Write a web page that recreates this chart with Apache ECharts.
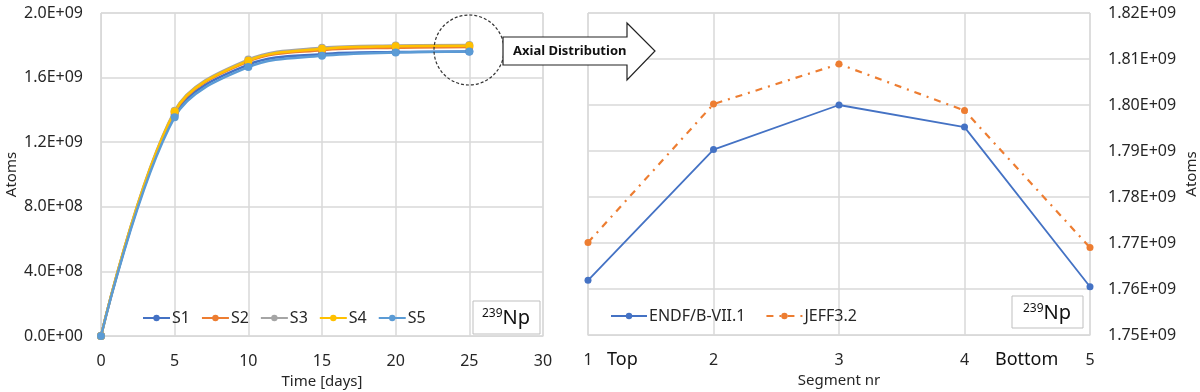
<!DOCTYPE html>
<html><head><meta charset="utf-8">
<script src="https://cdn.jsdelivr.net/npm/echarts@6/dist/echarts.min.js"></script>
<style>html,body{margin:0;padding:0;background:#fff}#c{width:1200px;height:392px}</style>
</head><body><div id="c"></div>
<script>
// ---- data ----
const times = [0, 5, 10, 15, 20, 25];
const s1 = [0, 1.370e9, 1.680e9, 1.745e9, 1.758e9, 1.762e9];
const s2 = [0, 1.385e9, 1.700e9, 1.770e9, 1.785e9, 1.790e9];
const s3 = [0, 1.395e9, 1.712e9, 1.785e9, 1.799e9, 1.802e9];
const s4 = [0, 1.390e9, 1.705e9, 1.778e9, 1.794e9, 1.797e9];
const s5 = [0, 1.355e9, 1.665e9, 1.735e9, 1.755e9, 1.761e9];
const seriesNames = ['S1', 'S2', 'S3', 'S4', 'S5'];
const segments = ['1', '2', '3', '4', '5'];
const endf = [1.7619e9, 1.7903e9, 1.8000e9, 1.7952e9, 1.7605e9];
const jeff = [1.7701e9, 1.8002e9, 1.8089e9, 1.7988e9, 1.7690e9];
const segNames = ['ENDF/B-VII.1', 'JEFF3.2'];

// ---- styles ----
const FONT = 'Noto Sans';
const TXT = '#262626';
const GRID = '#d9d9d9';
const colors = ['#4472C4', '#ED7D31', '#A5A5A5', '#FFC000', '#5B9BD5'];

function sci(v, d) {
  if (v === 0) return (0).toFixed(d) + 'E+00';
  let e = Math.floor(Math.log10(Math.abs(v)) + 1e-12);
  let m = v / Math.pow(10, e);
  if (parseFloat(m.toFixed(d)) >= 10) { m /= 10; e += 1; }
  return m.toFixed(d) + 'E+' + String(e).padStart(2, '0');
}

const leftData = [s1, s2, s3, s4, s5];
const leftSeries = leftData.map((arr, i) => ({
  name: seriesNames[i], type: 'line', xAxisIndex: 0, yAxisIndex: 0,
  smooth: 0.35, symbol: 'circle', symbolSize: 8,
  data: times.map((t, k) => [t, arr[k]]),
  lineStyle: { width: 2.5, color: colors[i] },
  itemStyle: { color: colors[i] }
}));

const rightSeries = [
  { name: segNames[0], type: 'line', xAxisIndex: 1, yAxisIndex: 1,
    symbol: 'circle', symbolSize: 7, data: endf,
    lineStyle: { width: 1.8, color: colors[0] }, itemStyle: { color: colors[0] } },
  { name: segNames[1], type: 'line', xAxisIndex: 1, yAxisIndex: 1,
    symbol: 'circle', symbolSize: 7, data: jeff,
    lineStyle: { width: 2.2, color: colors[1], type: [7, 6, 2, 6] }, itemStyle: { color: colors[1] } }
];

const axisLabel = { color: TXT, fontFamily: FONT, fontSize: 16 };
const nameStyle = { color: TXT, fontFamily: FONT, fontSize: 15 };

const option = {
  animation: false,
  backgroundColor: '#fff',
  grid: [
    { left: 101, top: 13, width: 442, height: 323, show: true, borderColor: GRID, borderWidth: 1, outerBoundsMode: 'none', containLabel: false },
    { left: 588, top: 13, width: 502, height: 322, show: true, borderColor: GRID, borderWidth: 1, outerBoundsMode: 'none', containLabel: false }
  ],
  xAxis: [
    { type: 'value', gridIndex: 0, min: 0, max: 30, interval: 5,
      name: 'Time [days]', nameLocation: 'middle', nameGap: 36, nameTextStyle: nameStyle,
      axisLine: { show: true, lineStyle: { color: GRID } }, axisTick: { show: false },
      axisLabel: Object.assign({ margin: 17 }, axisLabel),
      splitLine: { show: true, lineStyle: { color: GRID, width: 1.5 } } },
    { type: 'category', gridIndex: 1, data: segments, boundaryGap: false,
      name: 'Segment nr', nameLocation: 'middle', nameGap: 36, nameTextStyle: nameStyle,
      axisLine: { show: true, lineStyle: { color: GRID } }, axisTick: { show: false },
      axisLabel: Object.assign({ margin: 17 }, axisLabel),
      splitLine: { show: true, lineStyle: { color: GRID, width: 1.5 } } }
  ],
  yAxis: [
    { type: 'value', gridIndex: 0, min: 0, max: 2e9, interval: 4e8,
      name: 'Atoms', nameLocation: 'middle', nameGap: 82, nameRotate: 90, nameTextStyle: nameStyle,
      axisLine: { show: true, lineStyle: { color: GRID } }, axisTick: { show: false },
      axisLabel: Object.assign({ margin: 18, formatter: v => sci(v, 1) }, axisLabel),
      splitLine: { show: true, lineStyle: { color: GRID, width: 1.5 } } },
    { type: 'value', gridIndex: 1, position: 'right', min: 1.75e9, max: 1.82e9, interval: 1e7,
      name: 'Atoms', nameLocation: 'middle', nameGap: 94, nameRotate: 90, nameTextStyle: nameStyle,
      axisLine: { show: false }, axisTick: { show: false },
      axisLabel: Object.assign({ margin: 18, formatter: v => sci(v, 2) }, axisLabel),
      splitLine: { show: true, lineStyle: { color: GRID, width: 1.5 } } }
  ],
  legend: [
    { data: seriesNames, left: 137, top: 305, itemWidth: 27, itemHeight: 8, itemGap: 11,
      textStyle: { color: TXT, fontFamily: FONT, fontSize: 16, padding: [0, 0, 0, -3] } },
    { data: segNames, left: 605, top: 303, itemWidth: 36, itemHeight: 8, itemGap: 20,
      textStyle: { color: TXT, fontFamily: FONT, fontSize: 16, padding: [0, 0, 0, -3] } }
  ],
  series: leftSeries.concat(rightSeries),
  graphic: [
    // dashed circle highlight
    { type: 'circle', shape: { cx: 469, cy: 50, r: 35 }, z: 100,
      style: { fill: 'none', stroke: '#333', lineWidth: 1.2, lineDash: [3, 2] } },
    // block arrow
    { type: 'polygon', z: 100,
      shape: { points: [[503, 37], [627, 37], [627, 23], [655, 51], [627, 80], [627, 65], [503, 65]] },
      style: { fill: '#fff', stroke: '#222', lineWidth: 1.2 } },
    { type: 'text', x: 513, y: 51, z: 101,
      style: { text: 'Axial Distribution', fill: '#111', font: 'bold 13px "Noto Sans"', verticalAlign: 'middle' } },
    // isotope labels
    { type: 'rect', z: 100, shape: { x: 473, y: 301, width: 67, height: 33 },
      style: { fill: '#fff', stroke: '#bfbfbf', lineWidth: 1 } },
    { type: 'text', x: 506, y: 318, z: 101,
      style: { text: '{s|239}{n|Np}', align: 'center', verticalAlign: 'middle',
        rich: { s: { fontSize: 12, fill: '#111', fontFamily: FONT, verticalAlign: 'top', padding: [0, 0, 8, 0] },
                n: { fontSize: 20, fill: '#111', fontFamily: FONT } } } },
    { type: 'rect', z: 100, shape: { x: 1012, y: 296, width: 71, height: 32 },
      style: { fill: '#fff', stroke: '#bfbfbf', lineWidth: 1 } },
    { type: 'text', x: 1047, y: 313, z: 101,
      style: { text: '{s|239}{n|Np}', align: 'center', verticalAlign: 'middle',
        rich: { s: { fontSize: 12, fill: '#111', fontFamily: FONT, verticalAlign: 'top', padding: [0, 0, 8, 0] },
                n: { fontSize: 20, fill: '#111', fontFamily: FONT } } } },
    // Top / Bottom labels
    { type: 'text', x: 607, y: 360, style: { text: 'Top', fill: '#111', font: '18px "Noto Sans"', verticalAlign: 'middle' } },
    { type: 'text', x: 995, y: 360, style: { text: 'Bottom', fill: '#111', font: '18px "Noto Sans"', verticalAlign: 'middle' } }
  ]
};

echarts.init(document.getElementById('c'), null, { renderer: 'canvas' }).setOption(option);
</script>
</body></html>
